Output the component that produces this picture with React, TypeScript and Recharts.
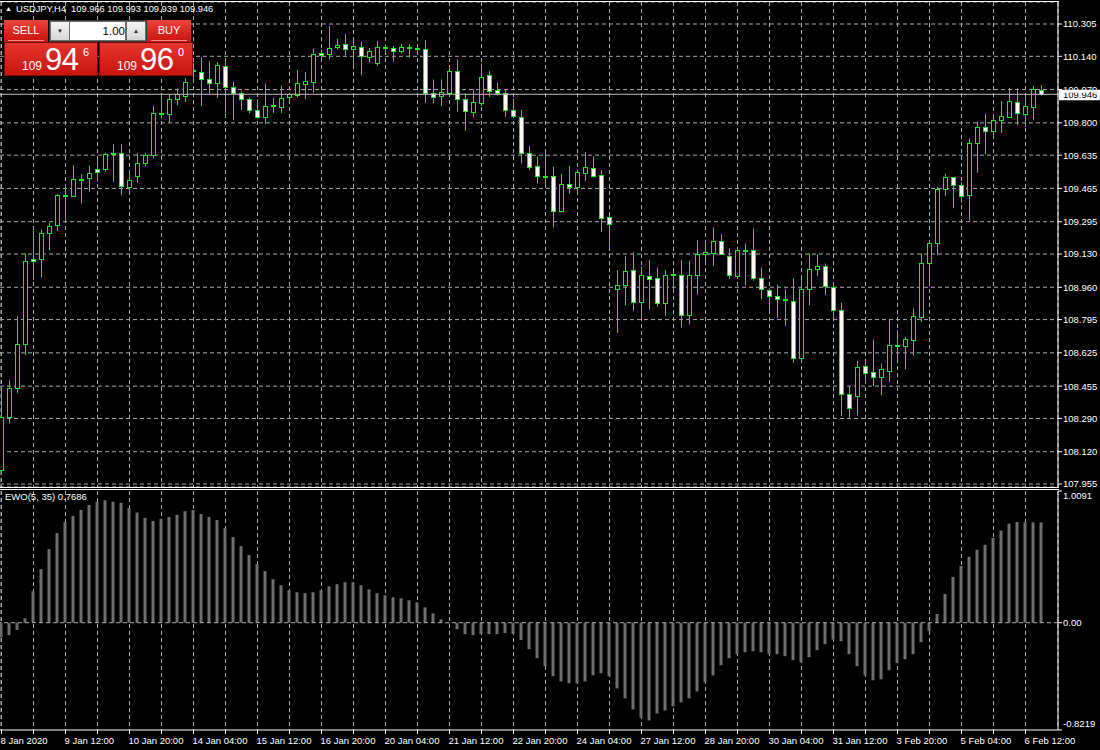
import React from 'react';
import { ComposedChart, Bar, XAxis, YAxis, CartesianGrid, ReferenceLine } from 'recharts';

const FONT = '"Liberation Sans", Arial, sans-serif';
const GREEN = '#00ff00';
const GRID = '#a8a8a8';

// USDJPY H4, 131 bars (8 Jan 2020 04:00 .. 6 Feb 2020)
const opens = [
  108.025, 108.298, 108.443, 108.669, 109.107, 109.102, 109.235, 109.276, 109.427, 109.427,
  109.514, 109.518, 109.562, 109.562, 109.647, 109.647, 109.473, 109.528, 109.596, 109.635,
  109.848, 109.845, 109.92, 109.937, 110.064, 110.061, 110.022, 110.005, 110.092, 109.984,
  109.95, 109.92, 109.868, 109.831, 109.891, 109.882, 109.93, 109.943, 110.001, 110.01,
  110.155, 110.153, 110.185, 110.202, 110.179, 110.189, 110.138, 110.107, 110.182, 110.18,
  110.167, 110.187, 110.179, 110.179, 109.95, 109.938, 109.954, 110.063, 109.92, 109.855,
  109.903, 110.044, 109.966, 109.95, 109.868, 109.831, 109.644, 109.582, 109.526, 109.528,
  109.349, 109.487, 109.47, 109.545, 109.567, 109.533, 109.317, 108.949, 108.971, 109.046,
  108.886, 109.02, 109.005, 108.881, 109.024, 109.025, 108.819, 109.024, 109.128, 109.136,
  109.194, 109.122, 109.018, 109.146, 109.153, 109.008, 108.944, 108.918, 108.896, 108.891,
  108.599, 108.949, 109.051, 109.071, 108.962, 108.846, 108.417, 108.405, 108.558, 108.525,
  108.504, 108.531, 108.661, 108.661, 108.69, 108.809, 109.085, 109.184, 109.463, 109.521,
  109.485, 109.432, 109.695, 109.777, 109.76, 109.817, 109.831, 109.904, 109.846, 109.879,
  109.966,
];
const highs = [
  108.451, 108.485, 108.812, 109.133, 109.248, 109.255, 109.289, 109.436, 109.473, 109.584,
  109.538, 109.582, 109.613, 109.647, 109.691, 109.691, 109.558, 109.644, 109.647, 109.886,
  109.937, 109.947, 109.976, 110.027, 110.107, 110.134, 110.114, 110.11, 110.114, 110.01,
  109.962, 109.93, 109.921, 110.001, 109.928, 109.991, 109.954, 110.07, 110.059, 110.18,
  110.175, 110.294, 110.228, 110.253, 110.219, 110.216, 110.182, 110.216, 110.202, 110.192,
  110.202, 110.202, 110.189, 110.223, 110.022, 110.022, 110.083, 110.124, 109.95, 109.971,
  110.104, 110.064, 110.006, 109.967, 109.923, 109.865, 109.681, 109.627, 109.647, 109.575,
  109.538, 109.579, 109.55, 109.65, 109.63, 109.558, 109.323, 109.047, 109.119, 109.138,
  109.065, 109.099, 109.061, 109.047, 109.039, 109.099, 109.095, 109.201, 109.184, 109.266,
  109.231, 109.158, 109.162, 109.184, 109.26, 109.061, 108.954, 108.974, 108.949, 109.005,
  109.005, 109.133, 109.128, 109.082, 108.983, 108.88, 108.451, 108.584, 108.584, 108.693,
  108.571, 108.795, 108.741, 108.707, 108.852, 109.133, 109.197, 109.473, 109.541, 109.524,
  109.497, 109.72, 109.805, 109.845, 109.845, 109.911, 109.979, 109.976, 109.937, 109.988,
  109.993,
];
const lows = [
  108.0, 108.264, 108.421, 108.613, 108.996, 109.01, 109.15, 109.248, 109.303, 109.426,
  109.388, 109.448, 109.499, 109.55, 109.499, 109.431, 109.456, 109.494, 109.579, 109.618,
  109.822, 109.8, 109.891, 109.908, 110.01, 109.886, 109.95, 109.928, 109.851, 109.814,
  109.865, 109.848, 109.822, 109.794, 109.851, 109.851, 109.916, 109.93, 109.921, 109.954,
  110.117, 110.124, 110.175, 110.144, 110.087, 110.044, 110.11, 110.092, 110.161, 110.112,
  110.155, 110.133, 110.155, 109.903, 109.899, 109.886, 109.947, 109.857, 109.759, 109.828,
  109.886, 109.933, 109.94, 109.831, 109.831, 109.593, 109.558, 109.49, 109.482, 109.266,
  109.344, 109.439, 109.443, 109.504, 109.521, 109.243, 109.167, 108.727, 108.869, 108.84,
  108.809, 108.846, 108.86, 108.814, 108.937, 108.755, 108.77, 108.923, 109.085, 109.068,
  109.124, 109.003, 109.017, 108.971, 108.993, 108.898, 108.84, 108.804, 108.763, 108.574,
  108.584, 108.869, 109.017, 108.921, 108.809, 108.301, 108.295, 108.306, 108.465, 108.455,
  108.409, 108.477, 108.584, 108.542, 108.61, 108.783, 108.966, 109.124, 109.426, 109.364,
  109.392, 109.3, 109.545, 109.64, 109.729, 109.749, 109.831, 109.788, 109.78, 109.814,
  109.939,
];
const closes = [
  108.298, 108.443, 108.669, 109.092, 109.092, 109.235, 109.272, 109.431, 109.432, 109.511,
  109.511, 109.543, 109.547, 109.639, 109.639, 109.477, 109.507, 109.596, 109.635, 109.848,
  109.851, 109.92, 109.947, 110.01, 110.068, 110.022, 110.006, 110.095, 109.984, 109.95,
  109.92, 109.868, 109.831, 109.886, 109.892, 109.926, 109.947, 110.005, 110.013, 110.15,
  110.148, 110.18, 110.197, 110.179, 110.192, 110.141, 110.167, 110.185, 110.185, 110.168,
  110.185, 110.189, 110.18, 109.954, 109.933, 109.957, 110.064, 109.92, 109.862, 109.906,
  110.035, 109.964, 109.952, 109.868, 109.836, 109.644, 109.576, 109.53, 109.53, 109.351,
  109.487, 109.472, 109.547, 109.574, 109.53, 109.315, 109.281, 108.974, 109.042, 108.886,
  109.025, 109.003, 108.881, 109.025, 109.027, 108.819, 109.025, 109.128, 109.138, 109.194,
  109.128, 109.024, 109.148, 109.15, 109.008, 108.949, 108.918, 108.898, 108.899, 108.599,
  108.949, 109.051, 109.071, 108.966, 108.846, 108.417, 108.344, 108.553, 108.523, 108.504,
  108.54, 108.663, 108.664, 108.698, 108.812, 109.082, 109.184, 109.46, 109.521, 109.484,
  109.427, 109.695, 109.777, 109.76, 109.817, 109.833, 109.911, 109.848, 109.884, 109.972,
  109.946,
];
// EWO(5, 35) histogram
const ewoValues = [
  -0.113, -0.095, -0.056, 0.033, 0.241, 0.41, 0.564, 0.687, 0.772, 0.818,
  0.864, 0.903, 0.926, 0.938, 0.926, 0.918, 0.879, 0.844, 0.803, 0.779,
  0.795, 0.81, 0.826, 0.854, 0.864, 0.833, 0.81, 0.787, 0.726, 0.656,
  0.587, 0.518, 0.449, 0.395, 0.333, 0.287, 0.249, 0.233, 0.226, 0.233,
  0.249, 0.279, 0.295, 0.31, 0.31, 0.287, 0.256, 0.226, 0.21, 0.195,
  0.187, 0.172, 0.156, 0.118, 0.072, 0.026, -0.005, -0.049, -0.087, -0.095,
  -0.087, -0.087, -0.087, -0.079, -0.087, -0.133, -0.203, -0.272, -0.333, -0.41,
  -0.449, -0.464, -0.464, -0.449, -0.403, -0.387, -0.41, -0.503, -0.579, -0.664,
  -0.726, -0.749, -0.695, -0.672, -0.641, -0.61, -0.579, -0.526, -0.456, -0.403,
  -0.326, -0.272, -0.241, -0.226, -0.218, -0.226, -0.241, -0.241, -0.256, -0.287,
  -0.303, -0.264, -0.21, -0.164, -0.128, -0.141, -0.241, -0.333, -0.403, -0.441,
  -0.433, -0.364, -0.31, -0.279, -0.241, -0.149, -0.064, 0.067, 0.221, 0.351,
  0.436, 0.505, 0.559, 0.597, 0.651, 0.705, 0.759, 0.772, 0.77, 0.769, 0.7686,
];

const timeLabels = [
  '8 Jan 2020', '9 Jan 12:00', '10 Jan 20:00', '14 Jan 04:00', '15 Jan 12:00', '16 Jan 20:00',
  '20 Jan 04:00', '21 Jan 12:00', '22 Jan 20:00', '24 Jan 04:00', '27 Jan 12:00', '28 Jan 20:00',
  '30 Jan 04:00', '31 Jan 12:00', '3 Feb 20:00', '5 Feb 04:00', '6 Feb 12:00',
];
const priceTicks = [
  110.305, 110.14, 109.97, 109.8, 109.635, 109.465, 109.295, 109.13,
  108.96, 108.795, 108.625, 108.455, 108.29, 108.12, 107.955,
];
const ewoTicks = [1.0091, 0, -0.8219];
const lastPrice = 109.946;

const data = opens.map((o, i) => ({
  i,
  open: o,
  high: highs[i],
  low: lows[i],
  close: closes[i],
  range: [lows[i], highs[i]],
  ewo: ewoValues[i],
}));

const gridTicks = Array.from({ length: 33 }, (_, k) => k * 4);
const xDomain = [-0.1875, 132.0625];

const Candle = (props: any) => {
  const { x, y, width, height, payload } = props;
  const { open, close, high, low } = payload;
  const span = high - low || 1;
  const toY = (v: number) => y + ((high - v) / span) * height;
  const cx = Math.floor(x + width / 2) + 0.5;
  const bull = close >= open;
  const top = Math.round(toY(Math.max(open, close))) + 0.5;
  const bottom = Math.max(Math.round(toY(Math.min(open, close))) + 0.5, top + 1);
  return (
    <g>
      <line x1={cx} x2={cx} y1={y} y2={y + height} stroke={GREEN} strokeWidth={1} />
      <rect x={cx - 2} y={top} width={4} height={bottom - top} fill={bull ? '#000' : '#fff'} stroke={GREEN} strokeWidth={1} />
    </g>
  );
};

// price box on the axis; it covers most of the 109.970 label, as in the terminal
const PriceLabel = (props: any) => {
  const vb = props.viewBox;
  const left = vb.x + vb.width + 1;
  return (
    <g>
      <rect x={left} y={vb.y - 4.5} width={41} height={10.5} fill="#fff" />
      <text x={left + 4} y={vb.y + 3.8} fill="#000" fontSize={9.5} fontFamily={FONT}>
        {lastPrice.toFixed(3)}
      </text>
    </g>
  );
};

const TimeTick = (props: any) => {
  const { x, y, payload } = props;
  const v = payload.value;
  if (v % 8 !== 0) return null;
  return (
    <text x={x - 1} y={y} dy="0.8em" fill="#fff" fontSize={9.5} fontFamily={FONT} textAnchor="start">
      {timeLabels[v / 8]}
    </text>
  );
};

const EwoTick = (props: any) => {
  const { x, y, payload } = props;
  const v = payload.value;
  const dy = v > 0 ? 5 : v < 0 ? -6 : 0;
  const label = v === 0 ? '0.00' : String(v);
  return (
    <text x={x} y={y + dy} dy="0.35em" fill="#fff" fontSize={9.5} fontFamily={FONT} textAnchor="start">
      {label}
    </text>
  );
};

const red = 'linear-gradient(#ec443d, #d92621 55%, #c8140f)';

const TradePanel = () => (
  <div style={{ position: 'absolute', left: 0, top: 0, fontFamily: FONT, color: '#fff' }}>
    <div style={{ position: 'absolute', left: 5, top: 5, fontSize: 7 }}>▲</div>
    <div style={{ position: 'absolute', left: 16, top: 4, fontSize: 9.3, whiteSpace: 'pre' }}>
      USDJPY,H4  109.966 109.993 109.939 109.946
    </div>
    <div style={{ position: 'absolute', left: 4, top: 20, width: 44, height: 22, background: red, fontSize: 11, textAlign: 'center', lineHeight: '20px' }}>
      SELL
      <div style={{ position: 'absolute', left: 4, right: 4, top: 20, height: 1, background: '#f08a85' }} />
    </div>
    <div style={{ position: 'absolute', left: 49, top: 20, width: 96, height: 20, background: '#6d6d6d', border: '1px solid #3a3a3a' }}>
      <div style={{ position: 'absolute', left: 1, top: 1, width: 18, height: 18, background: 'linear-gradient(#f4f4f4, #d6d6d6)', color: '#222', fontSize: 6, textAlign: 'center', lineHeight: '18px' }}>▼</div>
      <div style={{ position: 'absolute', left: 20, top: 1, width: 55, height: 18, background: '#fff', color: '#000', fontSize: 11.5, textAlign: 'right', lineHeight: '18px' }}>1.00</div>
      <div style={{ position: 'absolute', left: 77, top: 1, width: 18, height: 18, background: 'linear-gradient(#f4f4f4, #d6d6d6)', color: '#222', fontSize: 6, textAlign: 'center', lineHeight: '18px' }}>▲</div>
    </div>
    <div style={{ position: 'absolute', left: 147, top: 20, width: 44, height: 22, background: red, fontSize: 11, textAlign: 'center', lineHeight: '20px' }}>
      BUY
      <div style={{ position: 'absolute', left: 4, right: 4, top: 20, height: 1, background: '#f08a85' }} />
    </div>
    {[
      { left: 4, big: '94', sup: '6' },
      { left: 99, big: '96', sup: '0' },
    ].map((b) => (
      <div key={b.left} style={{ position: 'absolute', left: b.left, top: 42, width: 92, height: 32, background: 'linear-gradient(#e5332e, #c8150f)', border: '1px solid #7c0a07' }}>
        <span style={{ position: 'absolute', left: 17, top: 16, fontSize: 12 }}>109</span>
        <span style={{ position: 'absolute', left: 40, top: -1, fontSize: 31, letterSpacing: -0.5 }}>{b.big}</span>
        <span style={{ position: 'absolute', left: 78, top: 3, fontSize: 11 }}>{b.sup}</span>
      </div>
    ))}
  </div>
);

export default function App() {
  return (
    <div style={{ position: 'absolute', left: 0, top: 0, width: 1100, height: 750, background: '#000', overflow: 'hidden', fontFamily: FONT }}>
      <div style={{ position: 'absolute', left: 0, top: 0 }}>
        <ComposedChart width={1100} height={490} data={data} margin={{ top: 2, right: 0, bottom: 3, left: 0 }}>
          <CartesianGrid stroke={GRID} strokeDasharray="4 3" />
          <XAxis dataKey="i" type="number" domain={xDomain} ticks={gridTicks} interval={0} allowDataOverflow hide />
          <YAxis
            orientation="right"
            width={42}
            domain={[107.9397, 110.4174]}
            allowDataOverflow
            ticks={priceTicks}
            interval={0}
            tickFormatter={(v: number) => v.toFixed(3)}
            tick={{ fill: '#fff', fontSize: 9.5, fontFamily: FONT }}
            tickSize={4}
            tickMargin={1}
            axisLine={{ stroke: '#fff' }}
            tickLine={{ stroke: '#fff' }}
          />
          <ReferenceLine y={lastPrice} stroke="#c0c0c0" label={<PriceLabel />} />
          <Bar dataKey="range" barSize={5} shape={<Candle />} isAnimationActive={false} />
        </ComposedChart>
      </div>
      <div style={{ position: 'absolute', left: 0, top: 1, width: 1059, height: 1, background: '#fff' }} />
      <div style={{ position: 'absolute', left: 0, top: 487, width: 1059, height: 1, background: '#fff' }} />
      <div style={{ position: 'absolute', left: 0, top: 489, width: 1059, height: 1, background: '#fff' }} />
      <div style={{ position: 'absolute', left: 0, top: 489 }}>
        <ComposedChart width={1100} height={261} data={data} margin={{ top: 2, right: 0, bottom: 0, left: 0 }}>
          <CartesianGrid stroke={GRID} strokeDasharray="4 3" horizontal={false} />
          <XAxis
            dataKey="i"
            type="number"
            domain={xDomain}
            allowDataOverflow
            ticks={gridTicks}
            interval={0}
            height={20}
            tick={<TimeTick />}
            tickSize={4}
            axisLine={{ stroke: '#fff' }}
            tickLine={{ stroke: '#fff' }}
          />
          <YAxis
            orientation="right"
            width={42}
            domain={[-0.8219, 1.0091]}
            allowDataOverflow
            ticks={ewoTicks}
            interval={0}
            tick={<EwoTick />}
            tickSize={4}
            tickMargin={1}
            axisLine={{ stroke: '#fff' }}
            tickLine={{ stroke: '#fff' }}
          />
          <ReferenceLine y={0} stroke={GRID} strokeDasharray="4 3" />
          <Bar dataKey="ewo" barSize={3} fill="#6e6e6e" isAnimationActive={false} />
        </ComposedChart>
      </div>
      <div style={{ position: 'absolute', left: 5, top: 491, fontSize: 9.5, color: '#fff' }}>EWO(5, 35) 0.7686</div>
      <TradePanel />
    </div>
  );
}
